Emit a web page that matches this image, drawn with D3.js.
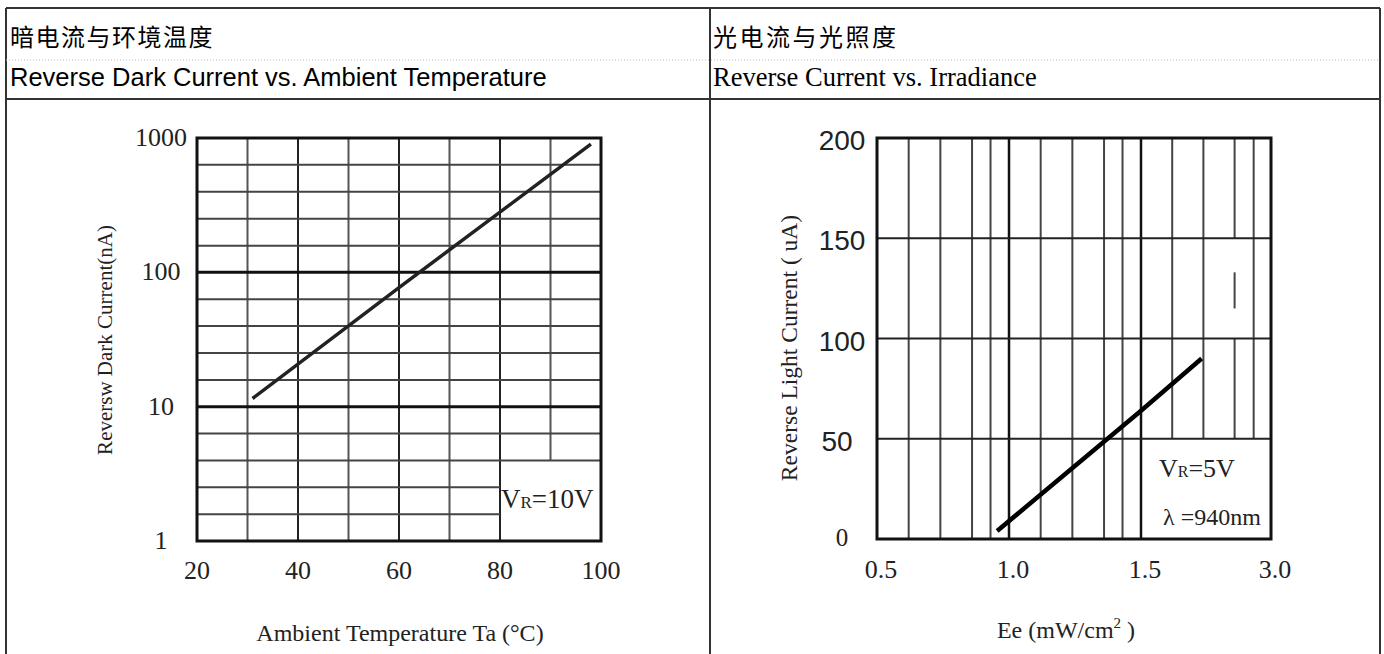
<!DOCTYPE html>
<html lang="zh">
<head>
<meta charset="UTF-8">
<title>Dark current / Light current</title>
<script src="https://cdn.jsdelivr.net/npm/d3@7"></script>
<style>
    body { margin: 0; background: #fff; }
    .serif { font-family: "Liberation Serif", "DejaVu Serif", serif; }
    .sans { font-family: "Liberation Sans", Arial, sans-serif; }
    .cjk { font-family: "Noto Sans CJK SC", sans-serif; }
</style>
</head>
<body>
<script>
// ---- data ----
// left chart: reverse dark current vs ambient temperature
var tempTicks = [20, 40, 60, 80, 100];
var tempGrid = [30, 40, 50, 60, 70, 80, 90];
var darkTicks = [1, 10, 100, 1000];
var darkMinor = [1.58, 2.51, 3.98, 6.31, 15.8, 25.1, 39.8, 63.1, 158, 251, 398, 631];
var darkCurve = [[31, 11.5], [60, 77], [98, 900]];

// right chart: reverse light current vs irradiance
var eeTicks = [0.5, 1.0, 1.5, 3.0];
var eeTickLabels = ["0.5", "1.0", "1.5", "3.0"];
var eeGrid = [0.62, 0.74, 0.86, 0.93, 1.0, 1.12, 1.24, 1.36, 1.43, 1.5, 1.86, 2.22, 2.58, 2.80];
var lightTicks = [0, 50, 100, 150, 200];
var lightCurve = [[0.955, 4], [1.5, 64], [2.20, 90]];
// the 2.58 line is broken in the scan: only these pieces are drawn
var brokenLine = { ee: 2.58, pieces: [[150, 200], [115, 133], [50, 100]] };

var width = 1384, height = 654;

var svg = d3.select("body").append("svg")
    .attr("width", width)
    .attr("height", height);

// ---- table frame ----
var frame = svg.append("g").attr("stroke", "#333").attr("fill", "none");
frame.append("line").attr("x1", 6).attr("y1", 8).attr("x2", 1380).attr("y2", 8).attr("stroke-width", 2);
frame.append("line").attr("x1", 6).attr("y1", 8).attr("x2", 6).attr("y2", 660).attr("stroke-width", 2);
frame.append("line").attr("x1", 1380).attr("y1", 8).attr("x2", 1380).attr("y2", 660).attr("stroke-width", 2);
frame.append("line").attr("x1", 710).attr("y1", 8).attr("x2", 710).attr("y2", 660).attr("stroke-width", 2);
frame.append("line").attr("x1", 6).attr("y1", 99).attr("x2", 1380).attr("y2", 99).attr("stroke-width", 2);
frame.append("line").attr("x1", 6).attr("y1", 60).attr("x2", 1380).attr("y2", 60)
    .attr("stroke", "#bbb").attr("stroke-width", 1).attr("stroke-dasharray", "1,2");

svg.append("text").attr("class", "cjk").attr("x", 10).attr("y", 46)
    .style("font-size", "24px").style("letter-spacing", "1.5px").text("暗电流与环境温度");
svg.append("text").attr("class", "sans").attr("x", 10).attr("y", 86)
    .style("font-size", "25.5px").text("Reverse Dark Current vs. Ambient Temperature");
svg.append("text").attr("class", "cjk").attr("x", 713).attr("y", 46)
    .style("font-size", "24px").style("letter-spacing", "2.5px").text("光电流与光照度");
svg.append("text").attr("class", "serif").attr("x", 713).attr("y", 86)
    .style("font-size", "26.5px").text("Reverse Current vs. Irradiance");

// ---- left chart ----
var xL = d3.scaleLinear().domain([20, 100]).range([197, 601]);
var yL = d3.scaleLog().domain([1, 1000]).range([541, 138]);
var left = svg.append("g");

// vertical grid (the 90 line stops above the label box)
left.selectAll(".vg").data(tempGrid).enter().append("line")
    .attr("x1", function (d) { return xL(d); })
    .attr("x2", function (d) { return xL(d); })
    .attr("y1", yL(1000))
    .attr("y2", function (d) { return d > 80 ? yL(3.98) : yL(1); })
    .attr("stroke", function (d) { return d % 20 == 0 ? "#222" : "#555"; })
    .attr("stroke-width", 2);

// minor horizontal grid (below 3.98 the lines stop at 80 C)
left.selectAll(".hg").data(darkMinor).enter().append("line")
    .attr("x1", xL(20))
    .attr("x2", function (d) { return d < 3.9 ? xL(80) : xL(100); })
    .attr("y1", function (d) { return yL(d); })
    .attr("y2", function (d) { return yL(d); })
    .attr("stroke", "#444")
    .attr("stroke-width", 2);

// decade lines
left.selectAll(".dg").data(darkTicks.slice(1, 3)).enter().append("line")
    .attr("x1", xL(20)).attr("x2", xL(100))
    .attr("y1", function (d) { return yL(d); })
    .attr("y2", function (d) { return yL(d); })
    .attr("stroke", "#111").attr("stroke-width", 3);

left.append("rect")
    .attr("x", xL(20)).attr("y", yL(1000))
    .attr("width", xL(100) - xL(20)).attr("height", yL(1) - yL(1000))
    .attr("fill", "none").attr("stroke", "#111").attr("stroke-width", 3);

left.append("path")
    .datum(darkCurve)
    .attr("d", d3.line().x(function (d) { return xL(d[0]); }).y(function (d) { return yL(d[1]); }))
    .attr("fill", "none").attr("stroke", "#222").attr("stroke-width", 3.5);

left.selectAll(".yt").data(darkTicks).enter().append("text")
    .attr("class", "serif")
    .attr("x", 161)
    .attr("y", function (d) { return yL(d) + 8; })
    .attr("text-anchor", "middle")
    .style("font-size", "26px").attr("fill", "#222")
    .text(function (d) { return d; });

left.selectAll(".xt").data(tempTicks).enter().append("text")
    .attr("class", "serif")
    .attr("x", function (d) { return xL(d); })
    .attr("y", 579)
    .attr("text-anchor", "middle")
    .style("font-size", "26px").attr("fill", "#222")
    .text(function (d) { return d; });

left.append("text").attr("class", "serif")
    .attr("transform", "translate(112,340) rotate(-90)")
    .attr("text-anchor", "middle")
    .style("font-size", "21px").attr("fill", "#222")
    .text("Reversw Dark Current(nA)");

left.append("text").attr("class", "serif")
    .attr("x", 400).attr("y", 641)
    .attr("text-anchor", "middle")
    .style("font-size", "24px").attr("fill", "#222")
    .text("Ambient Temperature Ta (°C)");

var vr1 = left.append("text").attr("class", "serif")
    .attr("x", 501).attr("y", 508)
    .style("font-size", "27px").attr("fill", "#222");
vr1.append("tspan").text("V");
vr1.append("tspan").style("font-size", "17px").text("R");
vr1.append("tspan").text("=10V");

// ---- right chart ----
var xR = d3.scaleLinear().domain(eeTicks).range([877, 1009, 1141, 1271]);
var yR = d3.scaleLinear().domain([0, 200]).range([539, 138]);
var right = svg.append("g");

right.selectAll(".vg").data(eeGrid.filter(function (d) { return d != brokenLine.ee; })).enter().append("line")
    .attr("x1", function (d) { return xR(d); })
    .attr("x2", function (d) { return xR(d); })
    .attr("y1", yR(200))
    .attr("y2", function (d) { return d > 1.5 ? yR(50) : yR(0); })
    .attr("stroke", function (d) { return eeTicks.indexOf(d) >= 0 ? "#111" : "#444"; })
    .attr("stroke-width", function (d) { return eeTicks.indexOf(d) >= 0 ? 2.5 : 2; });

right.selectAll(".bg").data(brokenLine.pieces).enter().append("line")
    .attr("x1", xR(brokenLine.ee)).attr("x2", xR(brokenLine.ee))
    .attr("y1", function (d) { return yR(d[1]); })
    .attr("y2", function (d) { return yR(d[0]); })
    .attr("stroke", "#444").attr("stroke-width", 2);

right.selectAll(".hg").data(lightTicks.slice(1, 4)).enter().append("line")
    .attr("x1", xR(0.5)).attr("x2", xR(3.0))
    .attr("y1", function (d) { return yR(d); })
    .attr("y2", function (d) { return yR(d); })
    .attr("stroke", "#222").attr("stroke-width", 2);

right.append("rect")
    .attr("x", xR(0.5)).attr("y", yR(200))
    .attr("width", xR(3.0) - xR(0.5)).attr("height", yR(0) - yR(200))
    .attr("fill", "none").attr("stroke", "#111").attr("stroke-width", 3);

right.append("path")
    .datum(lightCurve)
    .attr("d", d3.line().x(function (d) { return xR(d[0]); }).y(function (d) { return yR(d[1]); }))
    .attr("fill", "none").attr("stroke", "#000").attr("stroke-width", 4.5);

right.selectAll(".yt").data(lightTicks).enter().append("text")
    .attr("class", function (d) { return d == 0 ? "serif" : "sans"; })
    .attr("x", function (d) { return d == 50 ? 837 : 842; })
    .attr("y", function (d) { return yR(d) + (d == 0 ? 7 : 12); })
    .attr("text-anchor", "middle")
    .style("font-size", function (d) { return d == 0 ? "25px" : "28px"; })
    .attr("fill", "#222")
    .text(function (d) { return d; });

right.selectAll(".xt").data(eeTicks).enter().append("text")
    .attr("class", "serif")
    .attr("x", function (d) { return xR(d) + 4; })
    .attr("y", 578)
    .attr("text-anchor", "middle")
    .style("font-size", "26px").attr("fill", "#222")
    .text(function (d, i) { return eeTickLabels[i]; });

right.append("text").attr("class", "serif")
    .attr("transform", "translate(797,348) rotate(-90)")
    .attr("text-anchor", "middle")
    .style("font-size", "23.5px").attr("fill", "#222")
    .text("Reverse Light Current ( uA)");

var ee = right.append("text").attr("class", "serif")
    .attr("x", 1066).attr("y", 638)
    .attr("text-anchor", "middle")
    .style("font-size", "24px").attr("fill", "#222");
ee.append("tspan").text("Ee (mW/cm");
ee.append("tspan").attr("dy", -10).style("font-size", "15px").text("2");
ee.append("tspan").attr("dy", 10).text(" )");

var vr2 = right.append("text").attr("class", "serif")
    .attr("x", 1159).attr("y", 477)
    .style("font-size", "26px").attr("fill", "#222");
vr2.append("tspan").text("V");
vr2.append("tspan").style("font-size", "16px").text("R");
vr2.append("tspan").text("=5V");

right.append("text").attr("class", "serif")
    .attr("x", 1163).attr("y", 525)
    .style("font-size", "24px").attr("fill", "#222")
    .text("λ =940nm");
</script>
</body>
</html>
